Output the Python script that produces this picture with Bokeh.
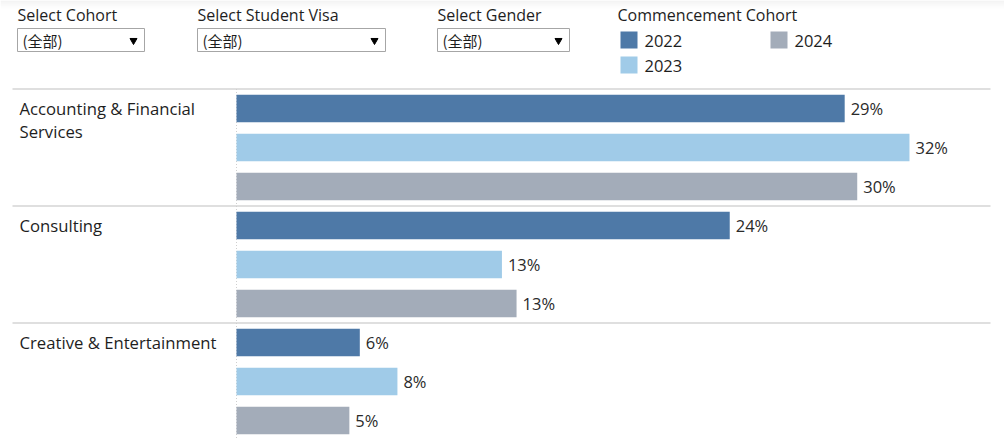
from bokeh.plotting import figure
from bokeh.models import Range1d, ColumnDataSource
from bokeh.core.properties import value
from bokeh.embed import file_html
from bokeh.resources import INLINE

# ---------------- data ----------------
categories = ["Accounting & Financial Services", "Consulting", "Creative & Entertainment"]
category_lines = [["Accounting & Financial", "Services"], ["Consulting"], ["Creative & Entertainment"]]
cohorts = ["2022", "2023", "2024"]
share_2022 = [29.1, 23.6, 5.9]
share_2023 = [32.2, 12.7, 7.7]
share_2024 = [29.7, 13.4, 5.4]
cohort_colors = ["#4e79a7", "#a0cbe8", "#a3acb9"]
filter_titles = ["Select Cohort", "Select Student Visa", "Select Gender"]
filter_values = ["(全部)", "(全部)", "(全部)"]
legend_title = "Commencement Cohort"

# ---------------- layout constants (pixels) ----------------
W, H = 1004, 439
PX_PER_PCT = 20.9
ZERO_X = 236
ROW_PX = 39
ROW0_Y = 108
FONT = "Open Sans"
TXT = "#1e1e1e"

x_range = Range1d((0 - ZERO_X) / PX_PER_PCT, (W - ZERO_X) / PX_PER_PCT)
y_range = Range1d((H - ROW0_Y) / ROW_PX, (0 - ROW0_Y) / ROW_PX)

p = figure(width=W, height=H, x_range=x_range, y_range=y_range,
           output_backend="svg", toolbar_location=None, min_border=0,
           x_axis_location=None, y_axis_location=None, outline_line_color=None)
p.extra_x_ranges = {"px": Range1d(0, W)}
p.extra_y_ranges = {"px": Range1d(H, 0)}
p.xgrid.grid_line_color = None
p.ygrid.grid_line_color = None
p.background_fill_color = "white"
p.border_fill_color = "white"

# faint top shadow of the dashboard
shade = ["#eeeeee", "#f1f1f1", "#f3f3f3", "#f5f5f5", "#f7f7f7", "#f9f9f9", "#fbfbfb", "#fdfdfd"]
p.quad(left=[0] * len(shade), right=[W] * len(shade), top=list(range(len(shade))),
       bottom=[i + 1 for i in range(len(shade))], fill_color=shade, line_color=None,
       x_range_name="px", y_range_name="px")

# ---------------- bars ----------------
series = [share_2022, share_2023, share_2024]
rows, vals, cols, labels = [], [], [], []
for gi, cat in enumerate(categories):
    for yi, coh in enumerate(cohorts):
        rows.append(gi * len(cohorts) + yi)
        v = series[yi][gi]
        vals.append(v)
        cols.append(cohort_colors[yi])
        labels.append(f"{round(v)}%")
bars = ColumnDataSource(dict(y=rows, v=vals, c=cols, lab=labels))

# group dividers
n_rows = len(categories) * len(cohorts)
div_y = [gi * len(cohorts) - 0.5 for gi in range(len(categories))]
p.segment(x0=[12] * len(div_y), x1=[990] * len(div_y), y0=div_y, y1=div_y,
          x_range_name="px", line_color="#d4d4d4", line_width=1.5)
# zero baseline (dotted)
p.segment(x0=[0], x1=[0], y0=[-0.5], y1=[n_rows], line_color="#cfcfcf",
          line_width=1, line_dash="1 2")

p.hbar(y="y", left=0, right="v", height=0.7, fill_color="c", line_color=None, source=bars)
p.text(x="v", y="y", text="lab", source=bars, x_offset=6, text_baseline="middle",
       text_align="left", text_font=value(FONT), text_font_size="16.5px", text_color="#2a2a2a")

# category labels
cx, cy, ct, co = [], [], [], []
for gi, lines in enumerate(category_lines):
    for li, ln in enumerate(lines):
        cx.append(19)
        cy.append(gi * len(cohorts))
        ct.append(ln)
        co.append(li * 23)
p.text(x=cx, y=cy, text=ct, y_offset=co, x_range_name="px", text_baseline="middle",
       text_align="left", text_font=value(FONT), text_font_size="16.7px", text_color=TXT)

# ---------------- header: filters ----------------
fx = [17, 197, 437]
fr = [144, 385, 569]
p.text(x=fx, y=[14.5] * 3, text=filter_titles, x_range_name="px", y_range_name="px",
       text_baseline="middle", text_font=value(FONT), text_font_size="16px", text_color=TXT)
p.quad(left=fx, right=fr, top=[28] * 3, bottom=[51] * 3, x_range_name="px", y_range_name="px",
       fill_color="white", line_color="#a6a6a6", line_width=1)
p.text(x=[x + 5 for x in fx], y=[39.5] * 3, text=filter_values, x_range_name="px", y_range_name="px",
       text_baseline="middle", text_font=value("Noto Sans CJK SC"), text_font_size="15px", text_color=TXT)
p.scatter(x=[r - 11 for r in fr], y=[40] * 3, marker="inverted_triangle", size=7,
          x_range_name="px", y_range_name="px", fill_color="black", line_color="black")

# ---------------- header: legend ----------------
p.text(x=[617], y=[14.5], text=[legend_title], x_range_name="px", y_range_name="px",
       text_baseline="middle", text_font=value(FONT), text_font_size="16px", text_color=TXT)
lx = [620, 620, 770]
ly = [31, 56, 31]
p.quad(left=lx, right=[x + 17 for x in lx], top=ly, bottom=[y + 17 for y in ly],
       fill_color=cohort_colors, line_color=None, x_range_name="px", y_range_name="px")
p.text(x=[x + 24 for x in lx], y=[y + 9.5 for y in ly], text=cohorts, x_range_name="px",
       y_range_name="px", text_baseline="middle", text_font=value(FONT),
       text_font_size="16.5px", text_color=TXT)

open("out.html", "w").write(file_html(p, INLINE))
